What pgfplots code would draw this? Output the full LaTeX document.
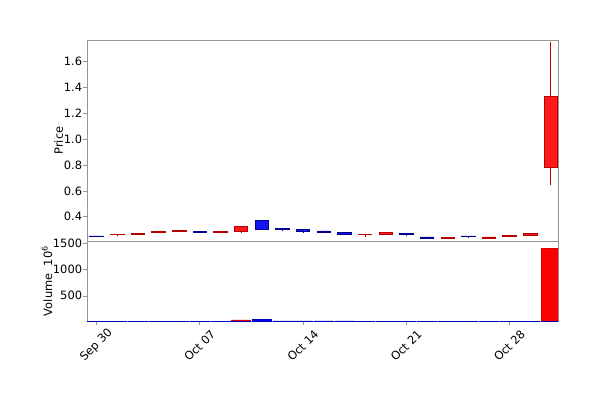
\documentclass[border=0pt]{standalone}
\usepackage{pgfplots}
\pgfplotsset{compat=1.18}
\usepackage{pgfplotstable}
\usepgfplotslibrary{statistics}
\usepackage{fontspec}
\setmainfont{DejaVu Sans}
\definecolor{cred}{RGB}{255,25,25}
\definecolor{credEdge}{RGB}{185,0,0}
\definecolor{cblue}{RGB}{20,20,240}
\definecolor{cblueEdge}{RGB}{0,0,140}
\definecolor{framec}{RGB}{150,150,150}

\pgfplotstableread{
i lo bl bh hi
0 0.246 0.247 0.252 0.254
1 0.260 0.261 0.266 0.268
2 0.262 0.265 0.273 0.276
3 0.276 0.278 0.284 0.286
4 0.284 0.286 0.291 0.293
5 0.276 0.282 0.287 0.289
6 0.279 0.281 0.287 0.289
7 0.274 0.285 0.322 0.324
8 0.297 0.305 0.374 0.378
9 0.292 0.302 0.311 0.313
10 0.276 0.286 0.300 0.302
11 0.275 0.280 0.290 0.292
12 0.265 0.267 0.276 0.278
13 0.245 0.263 0.266 0.268
14 0.263 0.266 0.280 0.282
15 0.260 0.262 0.270 0.272
16 0.234 0.236 0.244 0.246
17 0.231 0.233 0.241 0.243
18 0.243 0.245 0.252 0.254
19 0.234 0.236 0.244 0.246
20 0.250 0.252 0.255 0.257
21 0.256 0.258 0.270 0.272
22 0.646 0.780 1.330 1.749
}\candles

\pgfplotstableread{
i vr vb
0 0 8
1 8 0
2 9 0
3 9 0
4 10 0
5 0 10
6 11 0
7 42 0
8 0 46
9 0 22
10 0 21
11 0 21
12 0 20.5
13 9 0
14 10 0
15 0 9
16 0 9
17 9 0
18 0 9
19 9 0
20 8 0
21 9 0
22 1400 0
}\volumes

\newcommand{\candle}[2]{%
  \pgfplotstablegetelem{#1}{lo}\of\candles\let\clo\pgfplotsretval
  \pgfplotstablegetelem{#1}{bl}\of\candles\let\cbl\pgfplotsretval
  \pgfplotstablegetelem{#1}{bh}\of\candles\let\cbh\pgfplotsretval
  \pgfplotstablegetelem{#1}{hi}\of\candles\let\chigh\pgfplotsretval
  \edef\doit{\noexpand\addplot[#2, boxplot/draw direction=y,
     boxplot prepared={draw position=#1,
     lower whisker=\clo, lower quartile=\cbl, median=\cbh,
     upper quartile=\cbh, upper whisker=\chigh,
     box extend=0.65, whisker extend=0}] coordinates {};}%
  \doit
}

\begin{document}
\begin{tikzpicture}[x=1bp,y=1bp]
\useasboundingbox (-87bp,-82bp) rectangle (513bp,321bp);
\pgfplotsset{
  common/.style={
    scale only axis, width=471bp, xmin=-0.46, xmax=22.35,
    axis line style={framec}, tick style={framec, line width=0.6bp},
    tick align=outside, major tick length=3.5bp,
    xtick pos=bottom, ytick pos=left,
    /pgf/number format/assume math mode=true,
    tick label style={font=\fontsize{11.5}{13.5}\selectfont},
    yticklabel style={inner sep=1.2bp},
    label style={font=\fontsize{11.5}{13.5}\selectfont},
    ylabel shift=-4bp,
  },
  redc/.style={draw=credEdge, fill=cred, line width=0.6bp},
  bluec/.style={draw=cblueEdge, fill=cblue, line width=0.6bp},
}
\begin{axis}[common, at={(0,0)}, anchor=south west, height=80bp,
  ymin=20, ymax=1545, ytick={500,1000,1500}, scaled y ticks=false,
  yticklabel style={/pgf/number format/1000 sep={}},
  xtick={0,5,10,15,20}, xticklabels={Sep 30,Oct 07,Oct 14,Oct 21,Oct 28},
  xticklabel style={rotate=45, anchor=center},
  xticklabel shift=21bp,
  ylabel={Volume\ \ 10\textsuperscript{6}},
  ybar, bar width=0.92, bar shift=0pt]
\addplot[fill=red, draw=red!85!black, line width=0.5bp] table[x=i,y=vr]{\volumes};
\addplot[fill=blue, draw=blue!75!black, line width=0.5bp] table[x=i,y=vb]{\volumes};
\end{axis}
\begin{axis}[common, at={(0,80bp)}, anchor=south west, height=201bp,
  ymin=0.212, ymax=1.768, ytick={0.4,0.6,0.8,1.0,1.2,1.4,1.6}, xtick=\empty,
  yticklabel style={/pgf/number format/.cd, fixed, fixed zerofill, precision=1},
  ylabel={Price}]
\pgfplotsinvokeforeach{1,2,3,4,6,7,13,14,17,19,20,21,22}{\candle{#1}{redc}}
\pgfplotsinvokeforeach{0,5,8,9,10,11,12,15,16,18}{\candle{#1}{bluec}}
\end{axis}
\end{tikzpicture}
\end{document}
